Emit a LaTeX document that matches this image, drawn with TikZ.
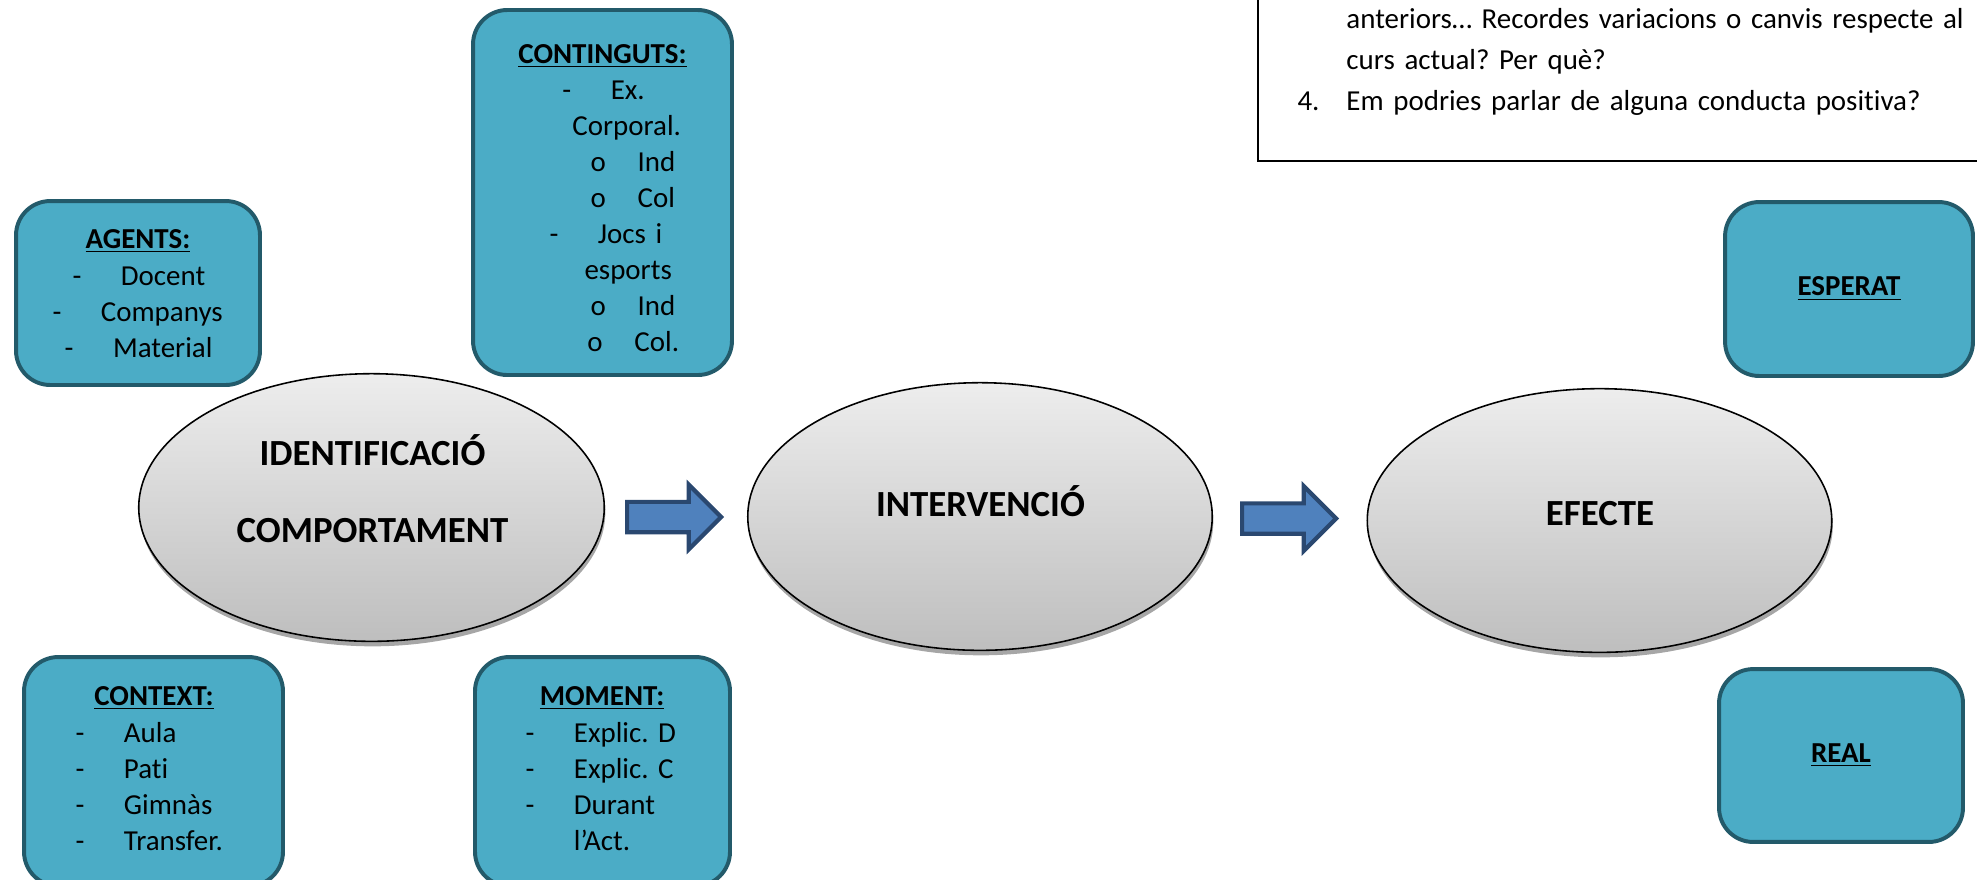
\documentclass[tikz,border=0pt]{standalone}
\usepackage{fontspec}
\setmainfont{Carlito}[Ligatures=NoCommon]
\usepackage{tikz}
\usetikzlibrary{shapes.geometric,shapes.arrows,shadows,positioning}

\definecolor{cardfill}{HTML}{4BACC6}
\definecolor{cardline}{HTML}{235A6A}
\definecolor{arrowfill}{HTML}{4F81BD}
\definecolor{arrowline}{HTML}{2A4870}
\definecolor{ovaltop}{HTML}{EDEDED}
\definecolor{ovalbot}{HTML}{BEBEBE}

\newcommand{\dashln}[2]{\hspace*{#1}\makebox[18.4pt][l]{-}#2}
\newcommand{\oln}[2]{\hspace*{#1}\makebox[17.9pt][l]{o}#2}
\frenchspacing

\begin{document}
\begin{tikzpicture}[x=0.38pt,y=-0.38pt,
  card/.style={draw=cardline,fill=cardfill,line width=1.5pt,rounded corners=13pt,inner sep=0pt},
  oval/.style={ellipse,draw=black,line width=0.6pt,top color=ovaltop,bottom color=ovalbot,
    inner sep=0pt,drop shadow={shadow xshift=0.4pt,shadow yshift=-1.9pt,fill=black,opacity=0.35}},
  blockarrow/.style={single arrow,draw=arrowline,fill=arrowfill,line width=1.6pt,inner sep=4.95pt,
    single arrow head extend=6.5pt,minimum height=35.7pt,minimum width=22.8pt,anchor=west},
  head/.style={font=\fontsize{11}{13.7}\selectfont\bfseries,anchor=base,inner sep=0pt},
  list/.style={font=\fontsize{11}{13.7}\selectfont,anchor=base west,align=left,text width=120pt,inner sep=0pt},
  big/.style={font=\fontsize{14}{29.3}\selectfont\bfseries,anchor=base,align=center,text width=200pt,inner sep=0pt}]
\useasboundingbox (0,0) rectangle (1977,879);
\clip (0,0) rectangle (1977,879);

% question box, top right
\draw [black,line width=0.6pt] (1258,-20) rectangle (2010,161);
\node [list,text width=280pt,font=\fontsize{11}{15.6}\selectfont] (quest) at (1297,28)
  {\hspace*{18.6pt}anteriors… Recordes variacions o canvis respecte al\\
   \hspace*{18.6pt}curs actual? Per què?\\
   \makebox[18.6pt][l]{4.}Em podries parlar de alguna conducta positiva?};

% cards
\node [card,minimum width=92.7pt,minimum height=69.9pt] (agents) at (138,293) {};
\node [head] (agentshead) at (138,248) {\underline{AGENTS:}};
\node [list] (agentslist) at (52,285)
  {\dashln{7.6pt}{Docent}\\ \dashln{0pt}{Companys}\\ \dashln{4.6pt}{Material}};

\node [card,minimum width=98.4pt,minimum height=138.7pt] (contents) at (602.5,192.5) {};
\node [head] (contentshead) at (602.5,63) {\underline{CONTINGUTS:}};
\node [list] (contentslist) at (549,99)
  {\dashln{4.9pt}{Ex.}\\
   \hspace*{8.7pt}Corporal.\\
   \oln{15.6pt}{Ind}\\
   \oln{15.6pt}{Col}\\
   \dashln{0pt}{Jocs i}\\
   \hspace*{13.3pt}esports\\
   \oln{15.6pt}{Ind}\\
   \oln{14.4pt}{Col.}};

\node [card,minimum width=98.4pt,minimum height=87pt] (context) at (153.5,771.5) {};
\node [head] (contexthead) at (154,705) {\underline{CONTEXT:}};
\node [list] (contextlist) at (75,742)
  {\dashln{0pt}{Aula}\\ \dashln{0pt}{Pati}\\ \dashln{0pt}{Gimnàs}\\ \dashln{0pt}{Transfer.}};

\node [card,minimum width=96.9pt,minimum height=87pt] (moment) at (602.5,771.5) {};
\node [head] (momenthead) at (602,705) {\underline{MOMENT:}};
\node [list] (momentlist) at (525,742)
  {\dashln{0pt}{Explic. D}\\ \dashln{0pt}{Explic. C}\\ \dashln{0pt}{Durant}\\ \hspace*{18.4pt}l’Act.};

\node [card,minimum width=94.2pt,minimum height=66.1pt,font=\fontsize{11}{13.7}\selectfont\bfseries] (expected) at (1849,289) {\underline{ESPERAT}};
\node [card,minimum width=92.7pt,minimum height=65.7pt,font=\fontsize{11}{13.7}\selectfont\bfseries] (real) at (1841,755.5) {\underline{REAL}};

% ovals
\node [oval,minimum width=176.9pt,minimum height=101.7pt] (ident) at (371.5,507.5) {};
\node [big] (identtext) at (372.5,465) {IDENTIFICACIÓ\\COMPORTAMENT};
\node [oval,minimum width=176.5pt,minimum height=101.7pt] (interv) at (980,516.5) {};
\node [big] (intervtext) at (980.5,516) {INTERVENCIÓ};
\node [oval,minimum width=176.5pt,minimum height=100.2pt] (effect) at (1599.5,520.5) {};
\node [big] (effecttext) at (1600,525) {EFECTE};

% arrows
\node [blockarrow] (arrowa) at (625,517) {};
\node [blockarrow] (arrowb) at (1240,518.5) {};
\end{tikzpicture}
\end{document}
